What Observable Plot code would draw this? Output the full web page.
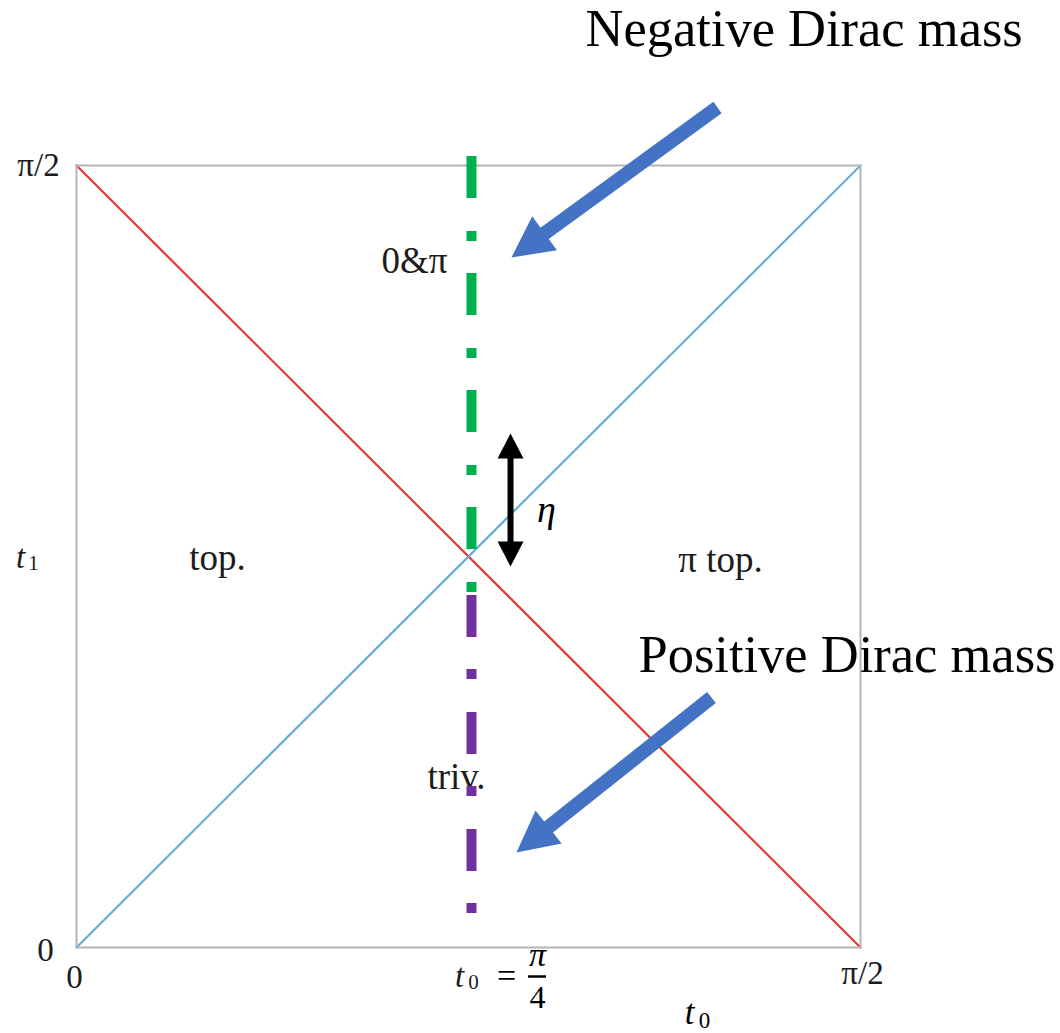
<!DOCTYPE html>
<html><head><meta charset="utf-8">
<script src="https://cdn.jsdelivr.net/npm/d3@7"></script>
<script src="https://cdn.jsdelivr.net/npm/@observablehq/plot@0.6"></script>
<style>
body{margin:0;background:#fff;}
#chart svg{display:block;}
</style>
</head><body><div id="chart"></div>
<script>
const H = Math.PI / 2;   // axis extent: t0, t1 in [0, π/2]

// phase boundaries (t0, t1)
const redLine  = [[0, H], [H, 0]];
const blueLine = [[0, 0], [H, H]];

// vertical cut at t0 = π/4 (values in units of π/2)
const cutT0 = 0.5038;
const greenSpan  = [1.0115, 0.4527];
const purpleSpan = [0.4501, 0.0422];

// phase labels (units of π/2)
const phaseText = ["top.", "π top.", "0&π", "triv."];
const phaseU    = [0.1798, 0.8214, 0.4311, 0.4847];
const phaseV    = [0.4974, 0.4949, 0.8772, 0.2174];

// tick labels (units of π/2)
const tickText = ["π/2", "0", "0", "π/2"];
const tickU    = [-0.0485, -0.0395, -0.0026, 1.0026];
const tickV    = [1.0, -0.0038, -0.0384, -0.0332];

// annotations
const noteText = ["Negative Dirac mass", "Positive Dirac mass"];
const noteU    = [0.6492, 0.7168];
const noteV    = [1.1739, 0.3734];

// blue arrows: tail -> tip (units of π/2)
const arrowTailU = [0.8176, 0.8099];
const arrowTailV = [1.0742, 0.3197];
const arrowTipU  = [0.5548, 0.5612];
const arrowTipV  = [0.8824, 0.1215];

// η double arrow
const etaU = 0.5536;
const etaV = [0.6573, 0.4872];

const W = 1060, HT = 1033, ML = 76, MR = 200, MT = 165, MB = 86;
const PW = W - ML - MR, PH = HT - MT - MB;

const serif = "Liberation Serif";
const ink = "#1c1c1c";

const blockArrow = {draw(ctx, l) {
  const w = 7, hw = 21, hl = 41;
  ctx.moveTo(-w, 0); ctx.lineTo(-w, -(l - hl)); ctx.lineTo(-hw, -(l - hl));
  ctx.lineTo(0, -l); ctx.lineTo(hw, -(l - hl)); ctx.lineTo(w, -(l - hl));
  ctx.lineTo(w, 0); ctx.closePath();
}};
const doubleArrow = {draw(ctx, l) {
  const w = 3, hw = 13, hl = 25;
  ctx.moveTo(0, -l); ctx.lineTo(hw, -l + hl); ctx.lineTo(w, -l + hl);
  ctx.lineTo(w, -hl); ctx.lineTo(hw, -hl); ctx.lineTo(0, 0);
  ctx.lineTo(-hw, -hl); ctx.lineTo(-w, -hl); ctx.lineTo(-w, -l + hl);
  ctx.lineTo(-hw, -l + hl); ctx.closePath();
}};

const arrows = arrowTailU.map((u, i) => {
  const dx = (arrowTipU[i] - u) * PW, dy = -(arrowTipV[i] - arrowTailV[i]) * PH;
  return {x: u * H, y: arrowTailV[i] * H, len: Math.hypot(dx, dy), rot: Math.atan2(dx, -dy) * 180 / Math.PI};
});
const etaLen = Math.abs(etaV[0] - etaV[1]) * PH;

const lbl = (t, u, v) => t.map((s, i) => ({s, x: u[i] * H, y: v[i] * H}));

const plot = Plot.plot({
  width: W, height: HT,
  marginLeft: ML, marginRight: MR, marginTop: MT, marginBottom: MB,
  x: {domain: [0, H], axis: null},
  y: {domain: [0, H], axis: null},
  style: {background: "white", overflow: "visible"},
  marks: [
    Plot.line(redLine, {x: d => d[0], y: d => d[1], stroke: "#e43b2f", strokeWidth: 2.2}),
    Plot.line(blueLine, {x: d => d[0], y: d => d[1], stroke: "#66aed8", strokeWidth: 2.2}),
    // phase labels
    Plot.text(lbl(phaseText, phaseU, phaseV), {x: "x", y: "y", text: "s", fontSize: 37, fontFamily: serif, fill: ink}),
    // tick labels
    Plot.text(lbl(tickText, tickU, tickV), {x: "x", y: "y", text: "s", fontSize: 33, fontFamily: serif, fill: ink}),
    // t1 axis label
    Plot.text([{x: -0.0714 * H, y: 0.4987 * H}], {x: "x", y: "y", text: () => "t", fontSize: 33, fontStyle: "italic", fontFamily: serif, fill: ink}),
    Plot.text([{x: -0.0550 * H, y: 0.4910 * H}], {x: "x", y: "y", text: () => "1", fontSize: 21, fontFamily: serif, fill: ink}),
    // t0 = π/4
    Plot.text([{x: 0.4885 * H, y: -0.0371 * H}], {x: "x", y: "y", text: () => "t", fontSize: 33, fontStyle: "italic", fontFamily: serif, fill: ink}),
    Plot.text([{x: 0.5065 * H, y: -0.0448 * H}], {x: "x", y: "y", text: () => "0", fontSize: 21, fontFamily: serif, fill: ink}),
    Plot.text([{x: 0.5485 * H, y: -0.0371 * H}], {x: "x", y: "y", text: () => "=", fontSize: 34, fontFamily: serif, fill: "#000"}),
    Plot.text([{x: 0.5880 * H, y: -0.0102 * H}], {x: "x", y: "y", text: () => "π", fontSize: 34, fontStyle: "italic", fontFamily: serif, fill: "#000"}),
    Plot.ruleY([-0.0371 * H], {x1: 0.5765 * H, x2: 0.5995 * H, stroke: "#000", strokeWidth: 2.5}),
    Plot.text([{x: 0.5880 * H, y: -0.0639 * H}], {x: "x", y: "y", text: () => "4", fontSize: 32, fontFamily: serif, fill: "#000"}),
    // bottom t0 title
    Plot.text([{x: 0.7819 * H, y: -0.0840 * H}], {x: "x", y: "y", text: () => "t", fontSize: 35, fontStyle: "italic", fontFamily: serif, fill: "#000"}),
    Plot.text([{x: 0.8010 * H, y: -0.0930 * H}], {x: "x", y: "y", text: () => "0", fontSize: 23, fontFamily: serif, fill: "#000"}),
    // annotation notes
    Plot.text(lbl(noteText, noteU, noteV), {x: "x", y: "y", text: "s", textAnchor: "start", fontSize: 52.5, fontFamily: serif, fill: "#000"}),
    // η
    Plot.text([{x: 0.5995 * H, y: 0.5601 * H}], {x: "x", y: "y", text: () => "η", fontSize: 38, fontStyle: "italic", fontFamily: serif, fill: "#000"}),
    Plot.frame({stroke: "#b4b4b4", strokeWidth: 2}),
    // dash-dot cut lines
    Plot.ruleX([cutT0 * H], {y1: greenSpan[0] * H, y2: greenSpan[1] * H, stroke: "#00b050", strokeWidth: 10, strokeDasharray: "42,33,10,32", strokeLinecap: "butt"}),
    Plot.ruleX([cutT0 * H], {y1: purpleSpan[0] * H, y2: purpleSpan[1] * H, stroke: "#7030a0", strokeWidth: 10, strokeDasharray: "42,32,10,33", strokeLinecap: "butt"}),
    // arrows
    ...arrows.map(a => Plot.vector([a], {x: "x", y: "y", length: a.len, rotate: a.rot, anchor: "start", shape: blockArrow, fill: "#4472c4", stroke: "none"})),
    Plot.vector([{x: etaU * H, y: (etaV[0] + etaV[1]) / 2 * H}], {x: "x", y: "y", length: etaLen, rotate: 0, anchor: "middle", shape: doubleArrow, fill: "#000", stroke: "none"})
  ]
});
document.getElementById("chart").append(plot);
</script>
</body></html>
